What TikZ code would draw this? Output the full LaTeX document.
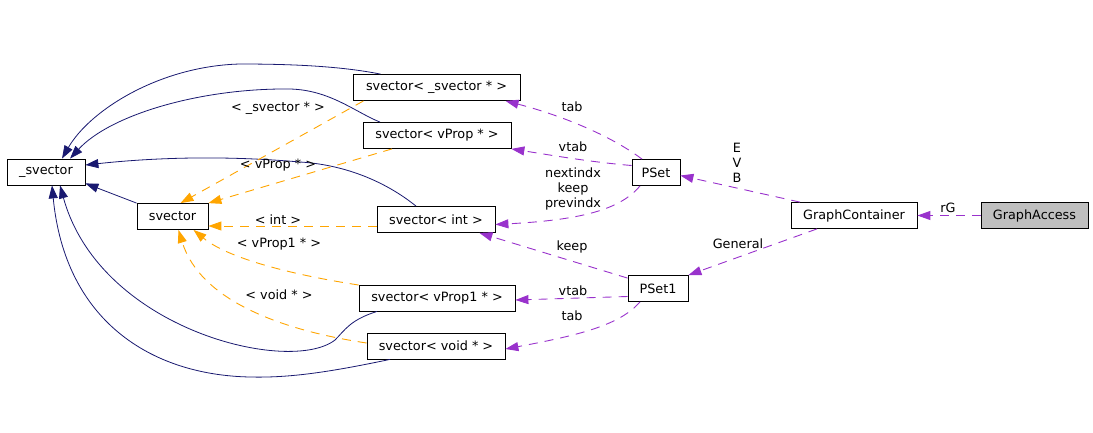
\documentclass[tikz,border=0pt]{standalone}
\usepackage{fontspec}
\setmainfont{DejaVu Sans}
\usetikzlibrary{arrows.meta, calc}
\definecolor{dxnavy}{RGB}{25,25,112}
\definecolor{dxorange}{RGB}{255,165,0}
\definecolor{dxpurple}{RGB}{153,50,204}
\definecolor{dxgray}{RGB}{191,191,191}
\tikzset{
  cls/.style={draw=black, fill=white, minimum width=#1, minimum height=26pt,
              inner sep=0pt, line width=0.8pt, font=\fontsize{12.8}{14}\selectfont},
  lbl/.style={inner sep=0pt, align=center, font=\fontsize{12.8}{15}\selectfont},
  tip/.style={-{Triangle[length=13pt, width=9pt]}},
  inh/.style={tip, draw=dxnavy, line width=0.8pt},
  tmpl/.style={tip, draw=dxorange, line width=0.9pt, dash pattern=on 9pt off 7pt},
  usg/.style={tip, draw=dxpurple, line width=0.9pt, dash pattern=on 9pt off 7pt},
}
\begin{document}
\begin{tikzpicture}[x=1pt, y=-1pt]
  \useasboundingbox (0,0) rectangle (1093,432);
  % classes
  \node[cls=78pt]  (vb)    at (46,172)     {\_svector};
  \node[cls=71pt]  (sv)    at (172.5,216.5) {svector};
  \node[cls=167pt] (sps)   at (436.5,87.5) {svector< \_svector * >};
  \node[cls=148pt] (spv)   at (437,135.5)  {svector< vProp * >};
  \node[cls=118pt] (si)    at (436,219.5)  {svector< int >};
  \node[cls=156pt] (spv1)  at (437,298)    {svector< vProp1 * >};
  \node[cls=138pt] (svd)   at (436,346)    {svector< void * >};
  \node[cls=48pt]  (pset)  at (656,172.5)  {PSet};
  \node[cls=60pt]  (pset1) at (658,288.5)  {PSet1};
  \node[cls=126pt] (gc)    at (854,215.5)  {GraphContainer};
  \node[cls=107pt, fill=dxgray] (ga) at (1034.5,215.5) {GraphAccess};

  % inheritance
  \draw[inh] (sv.north west) -- ([yshift=2pt]vb.south east);
  \draw[inh] ([xshift=-56pt]sps.north) .. controls (340,66) and (290,64) .. (240,64)
             .. controls (160,66) and (90,110) .. ([xshift=16pt]vb.north);
  \draw[inh] ([xshift=-57pt]spv.north) .. controls (355,112) and (330,90) .. (290,89)
             .. controls (200,88) and (110,115) .. ([xshift=24pt]vb.north);
  \draw[inh] ([xshift=-20pt]si.north) .. controls (390,185) and (350,165) .. (300,162)
             .. controls (220,155) and (150,158) .. ([yshift=7pt]vb.east);
  \draw[inh] ([xshift=-60pt]spv1.south) .. controls (350,320) and (345,330) .. (335,340)
             .. controls (290,375) and (100,330) .. ([xshift=14pt]vb.south);
  \draw[inh] ([xshift=-46pt]svd.south) .. controls (330,372) and (290,378) .. (250,377)
             .. controls (150,375) and (65,320) .. ([xshift=6pt]vb.south);

  % template instances
  \draw[tmpl] ([xshift=-73pt]sps.south) -- ([xshift=8pt]sv.north);
  \draw[tmpl] ([xshift=-45pt]spv.south) -- (sv.north east);
  \draw[tmpl] ([yshift=-6.5pt]si.west) -- ([yshift=-9.5pt]sv.east);
  \draw[tmpl] ([yshift=13pt]spv1.west) .. controls (300,276) and (230,260) .. ([xshift=21pt]sv.south);
  \draw[tmpl] ([yshift=3pt]svd.west) .. controls (280,330) and (200,300) .. ([xshift=6pt]sv.south);
  \node[lbl] (l1) at (278,108) {< \_svector * >};
  \node[lbl] (l2) at (278,165) {< vProp * >};
  \node[lbl] (l3) at (278,220) {< int >};
  \node[lbl] (l4) at (279,244) {< vProp1 * >};
  \node[lbl] (l5) at (279,295) {< void * >};

  % members
  \draw[usg] ([xshift=-14pt]pset.north) .. controls (610,135) and (560,115) .. ([xshift=69pt]sps.south);
  \draw[usg] ([yshift=7pt]pset.west) .. controls (590,162) and (550,155) .. (spv.south east);
  \draw[usg] ([xshift=-16pt]pset.south) .. controls (620,210) and (580,220) .. ([yshift=-5pt]si.east);
  \draw[usg] ([yshift=-3pt]pset1.north west) -- ([xshift=-16pt]si.south east);
  \draw[usg] ([yshift=-8pt]pset1.west) -- ([yshift=-2pt]spv1.east);
  \draw[usg] ([xshift=-18pt]pset1.south) .. controls (620,325) and (580,335) .. ([yshift=-3pt]svd.east);
  \draw[usg] ([xshift=-54pt]gc.north) -- ([yshift=-3pt]pset.east);
  \draw[usg] ([xshift=-37pt]gc.south) -- (pset1.north east);
  \draw[usg] (ga.west) -- (gc.east);
  \node[lbl] (m1) at (572,107) {tab};
  \node[lbl] (m2) at (573,147) {vtab};
  \node[lbl] (m3) at (573,189) {nextindx\\keep\\previndx};
  \node[lbl] (m4) at (572,247) {keep};
  \node[lbl] (m5) at (573,291) {vtab};
  \node[lbl] (m6) at (572,316) {tab};
  \node[lbl] (m7) at (737,163) {E\\V\\B};
  \node[lbl] (m8) at (738,244) {General};
  \node[lbl] (m9) at (948,208) {rG};
\end{tikzpicture}
\end{document}
